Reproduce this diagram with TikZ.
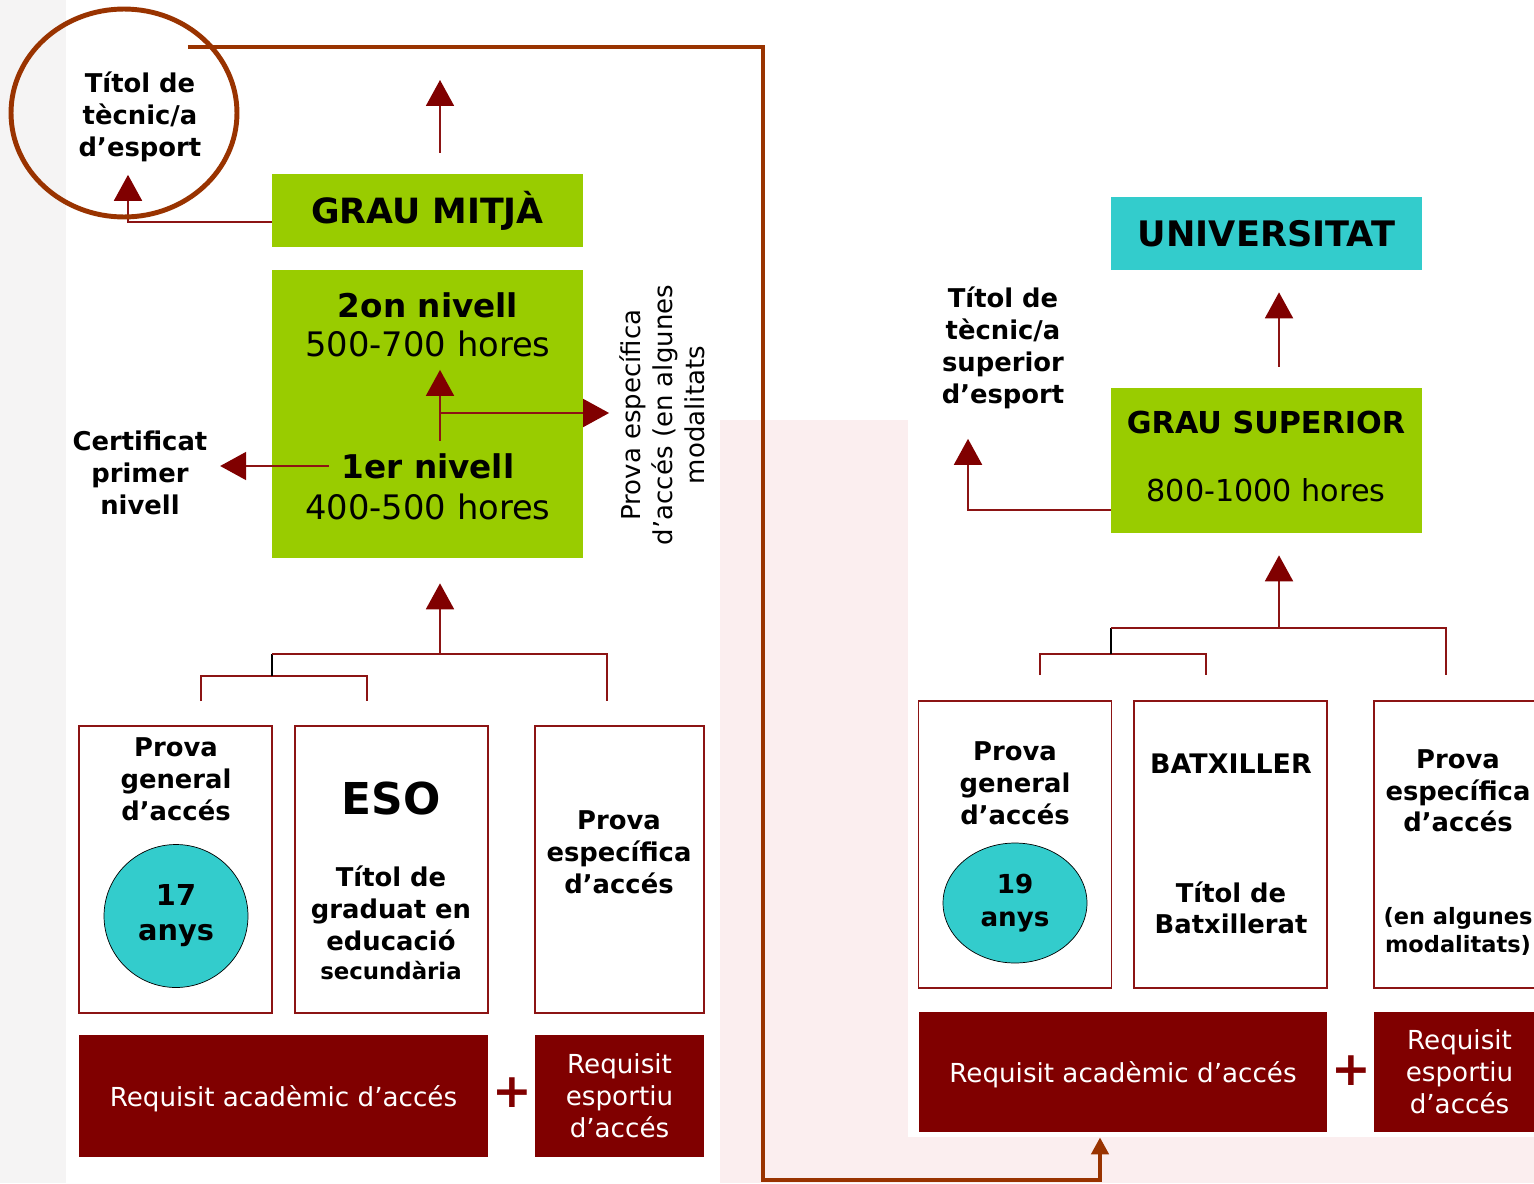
\documentclass[tikz,border=0pt]{standalone}
\usepackage{fontspec}
\setmainfont{DejaVu Sans}
\usetikzlibrary{arrows.meta,shapes.geometric}
\definecolor{cfgreen}{RGB}{153,204,0}
\definecolor{cfcyan}{RGB}{51,204,204}
\definecolor{cfmaroon}{RGB}{128,0,0}
\definecolor{cfline}{RGB}{140,20,20}
\definecolor{cfrust}{RGB}{153,51,0}
\definecolor{cfpink}{RGB}{251,238,239}
\definecolor{cfgrey}{RGB}{245,244,244}

\begin{document}
\begin{tikzpicture}[
  x=0.02cm, y=-0.02cm,
  lbl/.style={font=\bfseries\fontsize{14.7}{18.2}\selectfont, align=center, inner sep=0.25cm},
  head/.style={rectangle, fill=cfgreen, minimum width=6.22cm, font=\bfseries\fontsize{19.8}{22}\selectfont},
  level/.style={font=\bfseries\fontsize{18.6}{22}\selectfont, inner sep=0.25cm},
  hours/.style={font=\fontsize{19.2}{22}\selectfont, inner sep=0.25cm},
  entry/.style={rectangle, draw=cfline, line width=1.1pt, fill=white, minimum width=3.86cm, minimum height=5.74cm},
  req/.style={rectangle, fill=cfmaroon, text=white, minimum height=2.44cm, align=center, font=\fontsize{14.9}{18.2}\selectfont},
  age/.style={ellipse, draw=black, fill=cfcyan, minimum width=2.88cm, minimum height=2.86cm, align=center, inner sep=0pt, font=\bfseries\fontsize{16.4}{20}\selectfont},
  plus/.style={text=cfmaroon, font=\bfseries\fontsize{27}{27}\selectfont, inner sep=0pt},
  ln/.style={draw=cfline, line width=1.1pt},
  arrow/.style={ln, -{Triangle[width=0.56cm, length=0.52cm, color=cfmaroon]}},
  frame/.style={draw=cfrust, line width=2.8pt}
]
\useasboundingbox (0,0) rectangle (1534,1183);

% Background
\fill[white] (0,0) rectangle (1534,1183);
\fill[cfgrey] (0,0) rectangle (66,1183);
\fill[cfpink] (720,420) rectangle (908,1183);
\fill[cfpink] (908,1137) rectangle (1534,1183);

% Left - grau mitja
\node[head, minimum height=1.46cm] (gm) at (427.5,210.5) {GRAU MITJÀ};
\node[rectangle, fill=cfgreen, minimum width=6.22cm, minimum height=5.76cm] (niv) at (427.5,414) {};
\node[level] (n2a) at (428,305) {2on nivell};
\node[hours] (n2b) at (428,344) {500-700 hores};
\node[level] (n1a) at (428,466) {1er nivell};
\node[hours] (n1b) at (428,507) {400-500 hores};
\node[lbl] (t1) at (140,117) {Títol de\\tècnic/a\\d’esport};
\node[lbl] (cert) at (140,473) {Certificat\\primer\\nivell};
\node[rotate=90, align=center, inner sep=0.2cm, font=\fontsize{14.8}{18.2}\selectfont] (prot) at (662,415) {Prova específica\\d’accés (en algunes\\modalitats};

% Left - access boxes
\node[entry] (pg1) at (175.5,869.5) {};
\node[entry] (eso) at (391.5,869.5) {};
\node[entry, minimum width=3.38cm] (pe1) at (619.5,869.5) {};
\node[lbl] (pg1t) at (176,779) {Prova\\general\\d’accés};
\node[age] (c1) at (176,916) {17\\anys};
\node[font=\bfseries\fontsize{25}{30}\selectfont, inner sep=0pt] (esot) at (391,798) {ESO};
\node[lbl] (esot2) at (391,908) {Títol de\\graduat en\\educació};
\node[lbl, font=\bfseries\fontsize{13}{16}\selectfont] (esot3) at (391,971) {secundària};
\node[lbl] (pe1t) at (619,852) {Prova\\específica\\d’accés};
\node[req, minimum width=8.18cm, text depth=0pt] (ra1) at (283.5,1096) {Requisit acadèmic d’accés};
\node[req, minimum width=3.38cm] (re1) at (619.5,1096) {Requisit\\esportiu\\d’accés};
\node[plus] (pl1) at (512,1093) {+};

% Right - grau superior
\node[head, fill=cfcyan, minimum height=1.46cm, font=\bfseries\fontsize{20}{22}\selectfont] (univ) at (1266.5,233.5) {UNIVERSITAT};
\node[head, minimum height=2.9cm] (gs) at (1266.5,460.5) {};
\node[level, font=\bfseries\fontsize{17.2}{20}\selectfont] (gst) at (1266,422) {GRAU SUPERIOR};
\node[hours, font=\fontsize{17.2}{20}\selectfont] (gsh) at (1266,490) {800-1000 hores};
\node[lbl] (t2) at (1003,348) {Títol de\\tècnic/a\\superior\\d’esport};

% Right - access boxes
\node[entry] (pg2) at (1015,844.5) {};
\node[entry] (bat) at (1230.5,844.5) {};
\node[entry, minimum width=3.42cm] (pe2) at (1459.5,844.5) {};
\node[lbl] (pg2t) at (1015,783) {Prova\\general\\d’accés};
\node[age, minimum height=2.4cm, font=\bfseries\fontsize{14.9}{18.8}\selectfont] (c2) at (1015,903) {19\\anys};
\node[lbl, font=\bfseries\fontsize{15.3}{18}\selectfont] (batt) at (1231,764) {BATXILLER};
\node[lbl, font=\bfseries\fontsize{14.7}{17.6}\selectfont] (batt2) at (1231,908) {Títol de\\Batxillerat};
\node[lbl, font=\bfseries\fontsize{14.7}{18}\selectfont] (pe2t) at (1458,791) {Prova\\específica\\d’accés};
\node[lbl, font=\bfseries\fontsize{12.8}{16}\selectfont] (pe2t2) at (1458,931) {(en algunes\\modalitats)};
\node[req, minimum width=8.16cm, minimum height=2.4cm, text depth=0pt] (ra2) at (1123,1072) {Requisit acadèmic d’accés};
\node[req, minimum width=3.42cm, minimum height=2.4cm] (re2) at (1459.5,1072) {Requisit\\esportiu\\d’accés};
\node[plus] (pl2) at (1351,1071) {+};

% Left arrows
\coordinate (gmup) at (440,80);
\draw[arrow] ([yshift=0.42cm]gm.north -| gmup) -- (gmup);
\draw[arrow] ([yshift=-0.23cm]gm.west) -| ([xshift=-0.24cm]t1.south);
\draw[arrow] (n1a.north -| gmup) -- (n2b.south -| gmup);
\coordinate (jn) at (440,413);
\draw[arrow] (jn) -- (jn -| prot.north);
\draw[arrow] (n1a.west) -- (n1a.west -| cert.east);

% Left bracket
\coordinate (jl1) at (272,676);
\coordinate (jm1) at (440,654);
\draw[ln] ([xshift=0.51cm,yshift=0.48cm]pg1.north) |- (jl1) -| ([xshift=-0.49cm,yshift=0.48cm]eso.north);
\draw[draw=black, line width=0.8pt] (jl1) -- (jl1 |- jm1);
\draw[ln] (jl1 |- jm1) -| ([xshift=-0.25cm,yshift=0.48cm]pe1.north);
\draw[arrow] (jm1) -- ([yshift=-0.5cm]niv.south -| jm1);

% Right arrows
\coordinate (jm2) at (1279,628);
\draw[arrow] ([yshift=0.42cm]gs.north -| jm2) -- ([yshift=-0.44cm]univ.south -| jm2);
\draw[arrow] ([yshift=-0.99cm]gs.west) -| ([xshift=-0.7cm,yshift=-0.34cm]t2.south);

% Right bracket
\coordinate (jl2) at (1111,654);
\draw[ln] ([xshift=0.5cm,yshift=0.5cm]pg2.north) |- (jl2) -| ([xshift=-0.49cm,yshift=0.5cm]bat.north);
\draw[draw=black, line width=0.8pt] (jl2) -- (jl2 |- jm2);
\draw[ln] (jl2 |- jm2) -| ([xshift=-0.27cm,yshift=0.5cm]pe2.north);
\draw[arrow] (jm2) -- ([yshift=-0.44cm]gs.south -| jm2);

% Ring and frame
\node[ellipse, draw=cfrust, line width=2.8pt, minimum width=4.52cm, minimum height=4.16cm] (ring) at (124,113) {};
\coordinate (fc) at (763,1180);
\draw[frame, -{Triangle[width=0.34cm, length=0.34cm]}] ([xshift=1.28cm,yshift=1.32cm]ring.center) -| (fc) -| ([xshift=-0.46cm,yshift=-0.1cm]ra2.south);

\end{tikzpicture}
\end{document}
